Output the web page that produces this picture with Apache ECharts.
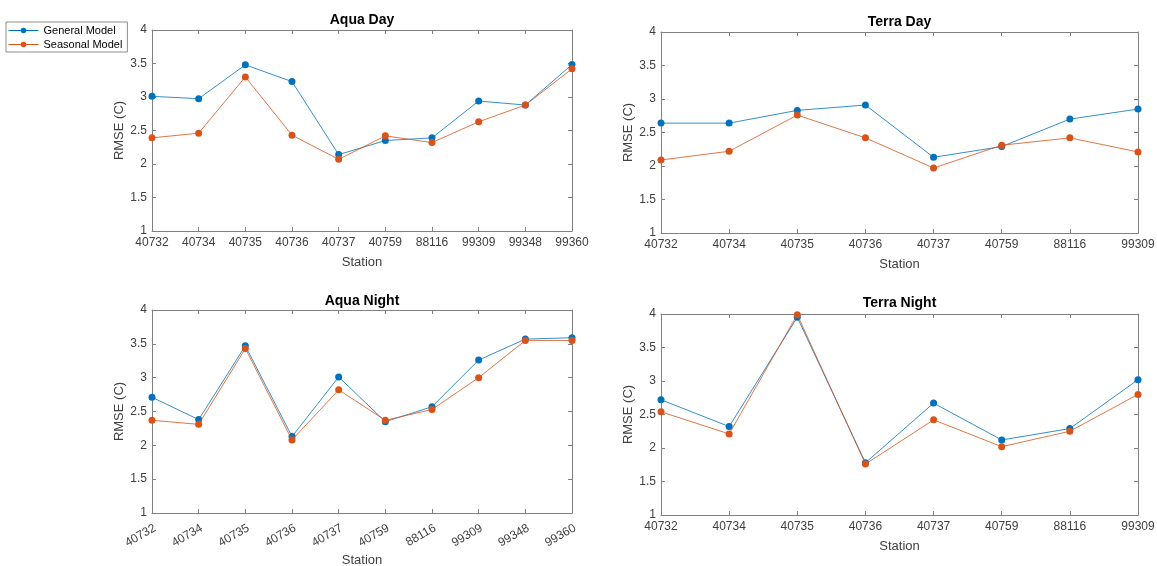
<!DOCTYPE html>
<html>
<head>
<meta charset="utf-8">
<script src="https://cdn.jsdelivr.net/npm/echarts@6/dist/echarts.min.js"></script>
<style>
html,body{margin:0;padding:0;background:#fff;}
#chart{width:1157px;height:566px;}
</style>
</head>
<body>
<div id="chart"></div>
<script>
// ---- data ----
const aquaStations = ['40732','40734','40735','40736','40737','40759','88116','99309','99348','99360'];
const terraStations = ['40732','40734','40735','40736','40737','40759','88116','99309'];

const aquaDayGeneral  = [3.01, 2.975, 3.48, 3.23, 2.14, 2.35, 2.39, 2.94, 2.88, 3.485];
const aquaDaySeasonal = [2.39, 2.46, 3.30, 2.43, 2.07, 2.42, 2.32, 2.63, 2.88, 3.42];

const terraDayGeneral  = [2.64, 2.64, 2.83, 2.91, 2.13, 2.29, 2.70, 2.85];
const terraDaySeasonal = [2.09, 2.22, 2.76, 2.42, 1.97, 2.31, 2.42, 2.21];

const aquaNightGeneral  = [2.71, 2.38, 3.47, 2.13, 3.01, 2.35, 2.57, 3.26, 3.57, 3.59];
const aquaNightSeasonal = [2.37, 2.31, 3.43, 2.08, 2.82, 2.37, 2.53, 3.00, 3.55, 3.55];

const terraNightGeneral  = [2.72, 2.32, 3.95, 1.78, 2.67, 2.12, 2.29, 3.02];
const terraNightSeasonal = [2.54, 2.21, 3.99, 1.76, 2.42, 2.02, 2.25, 2.80];

const panelTitles = ['Aqua Day', 'Terra Day', 'Aqua Night', 'Terra Night'];
const seriesNames = ['General Model', 'Seasonal Model'];
const yTicks = {min: 1, max: 4, interval: 0.5};

// ---- layout / style ----
const BLUE = '#0072BD', ORANGE = '#D95319';
const AXIS = '#808080', TXT = '#404040';
const FONT = 'Liberation Sans, Arial, sans-serif';

const panels = [
  {cats: aquaStations,  g: aquaDayGeneral,   s: aquaDaySeasonal,   grid: {left:152, top:30,  width:420, height:201}, titleTop:13,  rotate:0,  xGap:25},
  {cats: terraStations, g: terraDayGeneral,  s: terraDaySeasonal,  grid: {left:661, top:32,  width:477, height:201}, titleTop:15,  rotate:0,  xGap:25},
  {cats: aquaStations,  g: aquaNightGeneral, s: aquaNightSeasonal, grid: {left:152, top:310, width:420, height:203}, titleTop:294, rotate:30, xGap:41},
  {cats: terraStations, g: terraNightGeneral,s: terraNightSeasonal,grid: {left:661, top:314, width:477, height:201}, titleTop:296, rotate:0,  xGap:25}
];

const grid = [], xAxis = [], yAxis = [], series = [], title = [];
panels.forEach((p, i) => {
  grid.push(Object.assign({containLabel: false, outerBoundsMode: 'none'}, p.grid));
  title.push({
    text: panelTitles[i],
    left: p.grid.left + p.grid.width / 2,
    top: p.titleTop,
    textAlign: 'center',
    padding: 0,
    textStyle: {fontFamily: FONT, fontSize: 14, fontWeight: 'bold', color: '#000'}
  });
  const tick = {show: true, inside: true, length: 4, lineStyle: {color: AXIS}};
  const line = {show: true, lineStyle: {color: AXIS, width: 1}};
  const xLabel = {fontFamily: FONT, fontSize: 12, color: TXT, margin: 6, rotate: p.rotate, interval: 0};
  if (p.rotate) {
    Object.assign(xLabel, {align: 'right', verticalAlign: 'top', margin: 9});
  }
  xAxis.push({
    gridIndex: i, type: 'category', data: p.cats, boundaryGap: false, position: 'bottom',
    axisLine: line, axisTick: Object.assign({alignWithLabel: true}, tick),
    axisLabel: xLabel,
    name: 'Station', nameLocation: 'middle', nameGap: p.xGap,
    nameTextStyle: {fontFamily: FONT, fontSize: 13, color: TXT},
    splitLine: {show: false}
  });
  xAxis.push({
    gridIndex: i, type: 'category', data: p.cats, boundaryGap: false, position: 'top',
    axisLine: line, axisTick: tick, axisLabel: {show: false}, splitLine: {show: false}
  });
  yAxis.push({
    gridIndex: i, type: 'value', min: yTicks.min, max: yTicks.max, interval: yTicks.interval, position: 'left',
    axisLine: line, axisTick: tick,
    axisLabel: {fontFamily: FONT, fontSize: 12, color: TXT, margin: 5},
    name: 'RMSE (C)', nameLocation: 'middle', nameGap: 26,
    nameTextStyle: {fontFamily: FONT, fontSize: 13, color: TXT},
    splitLine: {show: false}
  });
  yAxis.push({
    gridIndex: i, type: 'value', min: yTicks.min, max: yTicks.max, interval: yTicks.interval, position: 'right',
    axisLine: line, axisTick: tick, axisLabel: {show: false}, splitLine: {show: false}
  });
  [[p.g, BLUE, 0], [p.s, ORANGE, 1]].forEach(([vals, col, k]) => {
    series.push({
      name: seriesNames[k], type: 'line', data: vals,
      xAxisIndex: i * 2, yAxisIndex: i * 2,
      symbol: 'circle', symbolSize: 7, showSymbol: true,
      lineStyle: {color: col, width: 0.8},
      itemStyle: {color: col},
      z: 2 + k, clip: false
    });
  });
});

const chart = echarts.init(document.getElementById('chart'), null, {renderer: 'canvas'});
chart.setOption({
  animation: false,
  backgroundColor: '#fff',
  title: title,
  legend: {
    data: seriesNames, orient: 'vertical', left: 6, top: 22,
    borderColor: '#8c8c8c', borderWidth: 1, padding: [3, 5, 2, 2],
    itemWidth: 30, itemHeight: 7, itemGap: 3,
    lineStyle: {width: 1},
    textStyle: {fontFamily: FONT, fontSize: 11, color: '#000'}
  },
  grid: grid, xAxis: xAxis, yAxis: yAxis, series: series
});
</script>
</body>
</html>
